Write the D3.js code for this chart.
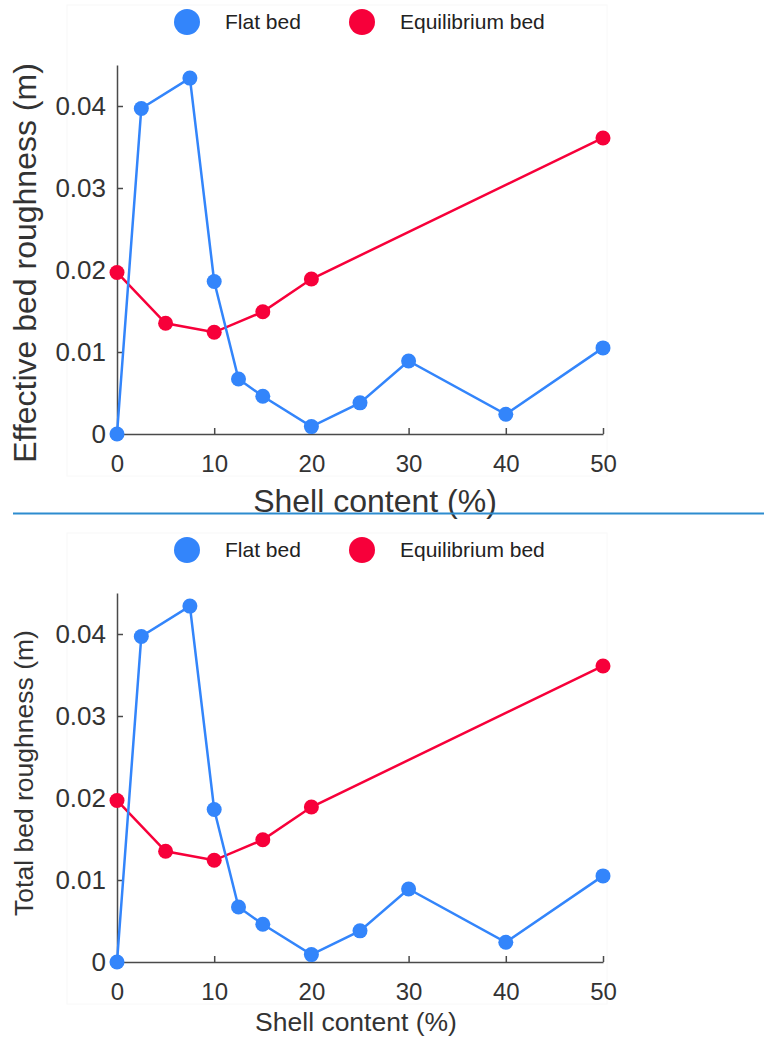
<!DOCTYPE html>
<html>
<head>
<meta charset="utf-8">
<script src="https://cdn.jsdelivr.net/npm/d3@7"></script>
<style>
  body { margin: 0; background: #fff; }
  text { font-family: "Liberation Sans", Arial, sans-serif; }
</style>
</head>
<body>
<svg id="chart" width="764" height="1037"></svg>
<script>
// data
let series_names = ["Flat bed", "Equilibrium bed"]
let series_colors = ["#3385fb", "#f7003a"]
let flat_x = [0, 2.5, 7.5, 10, 12.5, 15, 20, 25, 30, 40, 50]
let flat_y = [0, 0.0397, 0.0434, 0.0186, 0.0067, 0.0046, 0.0009, 0.0038, 0.0089, 0.0024, 0.0105]
let equil_x = [0, 5, 10, 15, 20, 50]
let equil_y = [0.0197, 0.0135, 0.0124, 0.0149, 0.0189, 0.0361]
let x_ticks = [0, 10, 20, 30, 40, 50]
let y_ticks = [0, 0.01, 0.02, 0.03, 0.04]
let x_title = "Shell content (%)"
let y_titles = ["Effective bed roughness (m)", "Total bed roughness (m)"]

let svg = d3.select("#chart")

function draw_panel(top, y_title, title_size, x_title_y, y_title_x, y_title_cy, x_title_cx) {
  let g = svg.append("g")
  // faint panel frame
  g.append("rect")
    .attr("x", 67).attr("y", top + 5)
    .attr("width", 540).attr("height", 471)
    .attr("fill", "none").attr("stroke", "#f8f8f8")

  let x = d3.scaleLinear().domain([0, 50]).range([117, 603])
  let y = d3.scaleLinear().domain([0, 0.045]).range([top + 434, top + 65])

  let xaxis = g.append("g")
    .attr("transform", "translate(0," + (top + 434) + ")")
    .call(d3.axisBottom(x).tickValues(x_ticks).tickSizeInner(-6).tickSizeOuter(0).tickPadding(21))
  let yaxis = g.append("g")
    .attr("transform", "translate(117,0)")
    .call(d3.axisLeft(y).tickValues(y_ticks).tickSizeInner(-6).tickSizeOuter(0).tickPadding(11)
      .tickFormat(d => d === 0 ? "0" : d3.format(".2f")(d)))

  xaxis.selectAll("text").attr("font-size", 24)
  yaxis.selectAll("text").attr("font-size", 26)
  g.selectAll(".domain, .tick line").attr("stroke", "#4a4a4a").attr("stroke-width", 1.5)
  g.selectAll(".tick text").attr("fill", "#333").attr("font-family", "Liberation Sans, Arial, sans-serif")

  let line = d3.line().x(d => x(d[0])).y(d => y(d[1]))
  let sets = [
    {pts: d3.zip(equil_x, equil_y), color: series_colors[1]},
    {pts: d3.zip(flat_x, flat_y), color: series_colors[0]}
  ]
  sets.forEach(s => {
    g.append("path").datum(s.pts)
      .attr("d", line)
      .attr("fill", "none")
      .attr("stroke", s.color)
      .attr("stroke-width", 2.5)
    g.selectAll(null).data(s.pts).enter().append("circle")
      .attr("cx", d => x(d[0]))
      .attr("cy", d => y(d[1]))
      .attr("r", 7.5)
      .attr("fill", s.color)
  })

  // legend
  let lx = [187, 362]
  series_names.forEach((n, i) => {
    g.append("circle").attr("cx", lx[i]).attr("cy", top + 22).attr("r", 13).attr("fill", series_colors[i])
    g.append("text").attr("x", lx[i] + 38).attr("y", top + 22).attr("dy", "0.35em")
      .attr("font-size", 21).attr("fill", "#222").text(n)
  })

  g.append("text")
    .attr("x", x_title_cx).attr("y", top + x_title_y)
    .attr("text-anchor", "middle").attr("font-size", title_size).attr("fill", "#333")
    .text(x_title)
  g.append("text")
    .attr("transform", "translate(" + y_title_x + "," + (top + y_title_cy) + ") rotate(-90)")
    .attr("text-anchor", "middle").attr("font-size", title_size).attr("fill", "#333")
    .text(y_title)
}

draw_panel(0, y_titles[0], 32, 512, 36, 263, 375)
draw_panel(528, y_titles[1], 26.5, 503, 33, 245, 356)

// separator between the two panels
svg.append("line")
  .attr("x1", 13).attr("x2", 764)
  .attr("y1", 513.5).attr("y2", 513.5)
  .attr("stroke", "#2d8ccf").attr("stroke-width", 2)
</script>
</body>
</html>
